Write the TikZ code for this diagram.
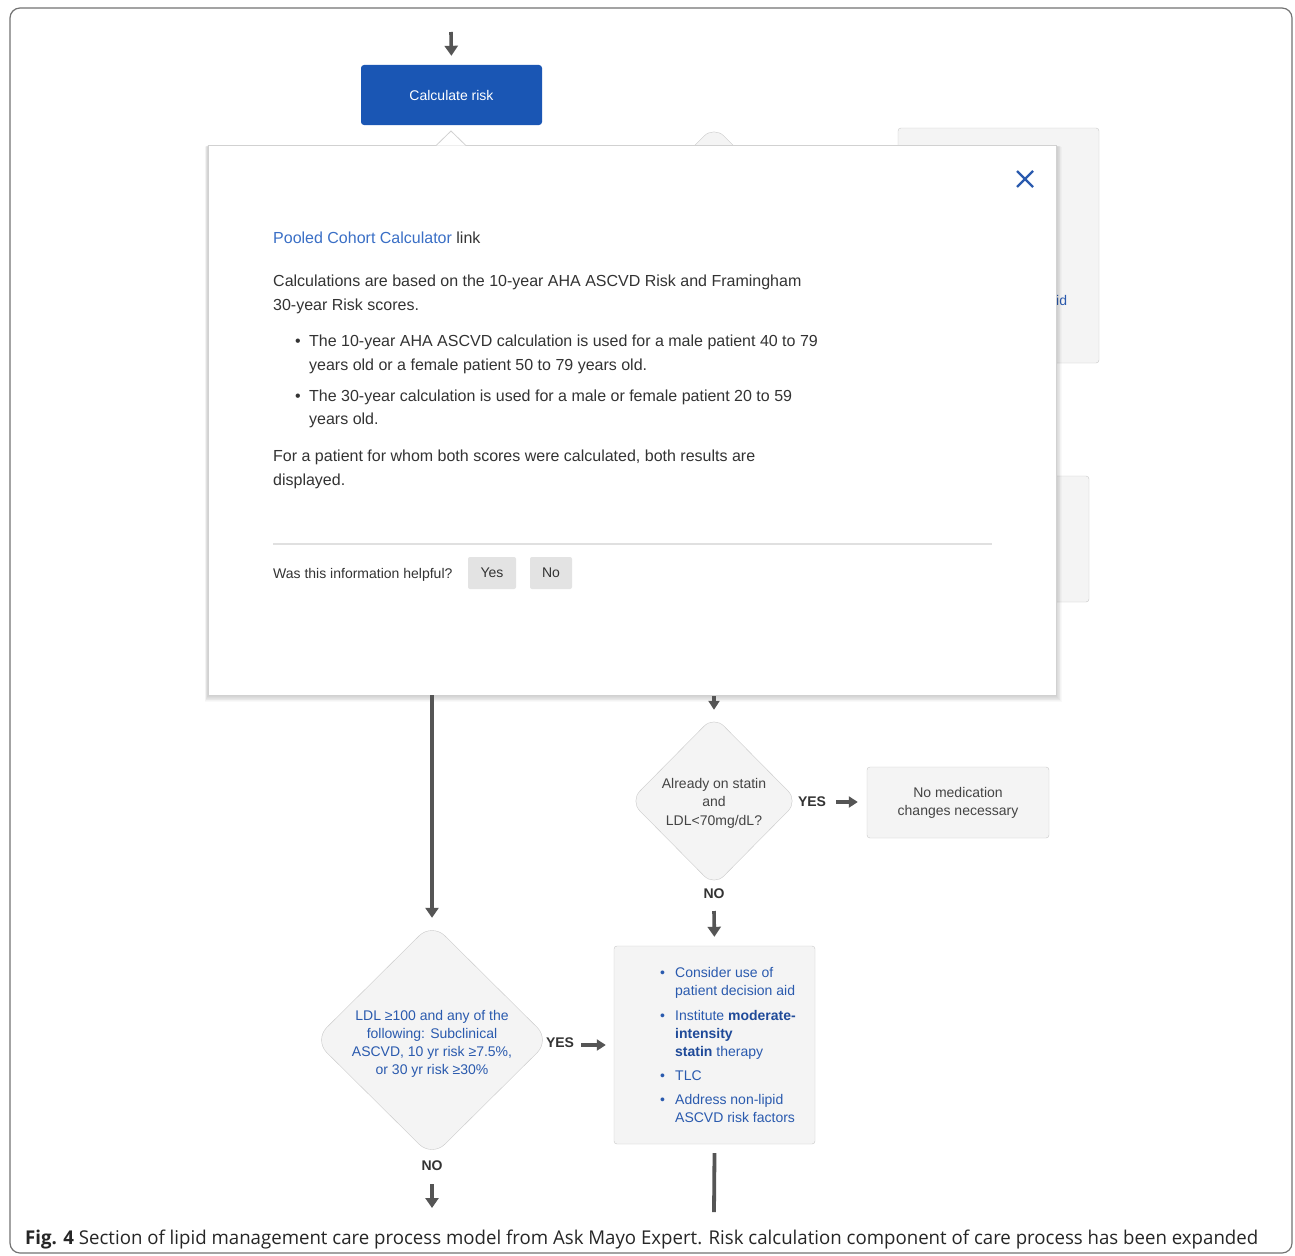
\documentclass[tikz,border=0pt]{standalone}
\usepackage{fontspec}
\setmainfont{Liberation Sans}
\newfontfamily\capfont{Open Sans}
\usetikzlibrary{arrows.meta,shapes.geometric}
\definecolor{arrowgray}{HTML}{555555}
\definecolor{calcblue}{HTML}{1A56B4}
\definecolor{linkblue}{HTML}{3A6FC6}
\definecolor{txtblue}{HTML}{2A5AAE}
\definecolor{boldblue}{HTML}{1F4A99}
\definecolor{boxfill}{HTML}{F4F4F4}
\definecolor{boxline}{HTML}{CACACA}
\definecolor{bodytext}{HTML}{333333}
\definecolor{graytext}{HTML}{444444}
\tikzset{
  arr/.style={draw=arrowgray, line width=3.6pt, -{Triangle[width=13pt,length=10pt]}},
  sarr/.style={draw=arrowgray, line width=3.2pt, -{Triangle[width=11pt,length=9pt]}},
  plainline/.style={draw=arrowgray, line width=3.6pt},
  graybox/.style={draw=boxline, fill=boxfill, rounded corners=3pt, inner sep=0pt},
  gdiamond/.style={diamond, draw=boxline, fill=boxfill, inner sep=0pt, rounded corners=14pt},
  pop/.style={anchor=base west, inner sep=0pt, text=bodytext, font=\fontsize{16}{20}\selectfont},
  popbul/.style={anchor=base west, inner sep=0pt, text=bodytext, font=\fontsize{16}{20}\selectfont},
  bl/.style={anchor=base west, inner sep=0pt, text=txtblue, font=\fontsize{14}{18}\selectfont},
  yn/.style={inner sep=0pt, text=bodytext, font=\fontsize{14}{16}\selectfont\bfseries},
  btn/.style={fill=black!11, rounded corners=2pt, inner sep=0pt, text=bodytext, font=\fontsize{14}{16}\selectfont},
}
\begin{document}
\begin{tikzpicture}[x=1pt,y=-1pt]
\useasboundingbox (0,0) rectangle (1295,1255);
\fill[white] (0,0) rectangle (1295,1255);
% outer frame
\draw[black!55, line width=1.2pt, rounded corners=10pt] (10,8) rectangle (1292,1253);

% ---- background elements partly hidden by the popup ----
\node[gdiamond, minimum width=172pt, minimum height=172pt] (hd) at (714,212) {};
\node[graybox, minimum width=201pt, minimum height=235pt] (hb1) at (998.5,245.5) {};
\node[anchor=base west, inner sep=0pt, text=txtblue, font=\fontsize{14}{18}\selectfont] (hbt) at (1056,305) {id};
\node[graybox, minimum width=100pt, minimum height=126pt] (hb2) at (1039,539) {};

% ---- top ----
\coordinate (in0) at (451,32);
\node[fill=calcblue, rounded corners=3pt, minimum width=181pt, minimum height=60pt, inner sep=0pt, text=white, font=\fontsize{14}{16}\selectfont] (calc) at (451.5,95) {Calculate risk};
\draw[arr, shorten >=9pt] (in0) -- (calc.north);

% ---- popup shadow ----
\foreach \i in {1,...,8}{
  \fill[black, opacity=0.022] (208-\i*0.4,145+\i*0.2) rectangle (1056+\i*0.7,695+\i*0.9);
}
% ---- popup ----
\node[draw=black!18, fill=white, minimum width=848pt, minimum height=550pt, inner sep=0pt, anchor=north west] (popup) at (208,145) {};
\coordinate (nl) at (436,145.6);
\coordinate (nt) at (451,131);
\coordinate (nr) at (466,145.6);
\fill[white] (nl) -- (nt) -- (nr) -- cycle;
\draw[black!18, line width=0.8pt] (nl) -- (nt) -- (nr);
% close icon
\coordinate (xa) at (1017,171);
\coordinate (xb) at (1033,187);
\coordinate (xc) at (1017,187);
\coordinate (xd) at (1033,171);
\draw[txtblue, line width=2.2pt] (xa) -- (xb) (xc) -- (xd);

\node[pop] (t1) at (273,243) {\textcolor{linkblue}{Pooled Cohort Calculator} link};
\node[pop] (t2) at (273,286) {Calculations are based on the 10-year AHA ASCVD Risk and Framingham};
\node[pop] (t3) at (273,310) {30-year Risk scores.};
\node[popbul] (b1) at (295,346) {•};
\node[pop] (t4) at (309,346) {The 10-year AHA ASCVD calculation is used for a male patient 40 to 79};
\node[pop] (t5) at (309,370) {years old or a female patient 50 to 79 years old.};
\node[popbul] (b2) at (295,401) {•};
\node[pop] (t6) at (309,401) {The 30-year calculation is used for a male or female patient 20 to 59};
\node[pop] (t7) at (309,424) {years old.};
\node[pop] (t8) at (273,461) {For a patient for whom both scores were calculated, both results are};
\node[pop] (t9) at (273,485) {displayed.};
\coordinate (sl) at (273,544);
\coordinate (sr) at (992,544);
\draw[black!12, line width=1.2pt] (sl) -- (sr);
\node[anchor=base west, inner sep=0pt, text=bodytext, font=\fontsize{14}{16}\selectfont] (help) at (273,578) {Was this information helpful?};
\node[btn, minimum width=48pt, minimum height=32pt] (yes) at (492,573) {Yes};
\node[btn, minimum width=42pt, minimum height=32pt] (no) at (551,573) {No};

% ---- lower flow ----
\node[gdiamond, minimum width=168pt, minimum height=170pt] (d1) at (714,801) {};
\node[align=center, inner sep=0pt, text=graytext, font=\fontsize{14}{18.5}\selectfont] (d1t) at (714,803) {Already on statin\\and\\LDL<70mg/dL?};
\node[graybox, minimum width=182pt, minimum height=71pt, align=center, text=graytext, font=\fontsize{14}{18}\selectfont] (nomed) at (958,802.5) {No medication\\changes necessary};
\node[yn] (yes1) at (812,802) {YES};
\node[yn] (no1) at (714,894) {NO};

\node[graybox, minimum width=201pt, minimum height=198pt] (box2) at (714.5,1045) {};
\node[bl] (c1) at (660,977) {•};
\node[bl] (c2) at (675,977) {Consider use of};
\node[bl] (c3) at (675,995) {patient decision aid};
\node[bl] (c4) at (660,1020) {•};
\node[bl] (c5) at (675,1020) {Institute \textcolor{boldblue}{\bfseries moderate-}};
\node[bl] (c6) at (675,1038) {\textcolor{boldblue}{\bfseries intensity}};
\node[bl] (c7) at (675,1056) {\textcolor{boldblue}{\bfseries statin} therapy};
\node[bl] (c8) at (660,1080) {•};
\node[bl] (c9) at (675,1080) {TLC};
\node[bl] (c10) at (660,1104) {•};
\node[bl] (c11) at (675,1104) {Address non-lipid};
\node[bl] (c12) at (675,1122) {ASCVD risk factors};

\node[gdiamond, minimum width=236pt, minimum height=234pt, rounded corners=18pt] (d2) at (432,1040) {};
\node[align=center, inner sep=0pt, text=txtblue, font=\fontsize{14}{18}\selectfont] (d2t) at (432,1044) {LDL ≥100 and any of the\\following: Subclinical\\ASCVD, 10 yr risk ≥7.5\%,\\or 30 yr risk ≥30\%};
\node[yn] (yes2) at (560,1043) {YES};
\node[yn] (no2) at (432,1166) {NO};

% connectors
\coordinate (p1) at (432,695);
\draw[arr, shorten >=5pt] (p1) -- (d2.north);
\coordinate (p2) at (714,696);
\draw[sarr, shorten >=6pt] (p2) -- (d1.north);
\coordinate (y1a) at (836,802);
\draw[sarr, shorten >=9pt] (y1a) -- (nomed.west |- y1a);
\coordinate (n1a) at (714,911);
\draw[arr, shorten >=9pt] (n1a) -- (box2.north);
\coordinate (y2a) at (581,1045);
\draw[sarr, shorten >=8pt] (y2a) -- (box2.west |- y2a);
\coordinate (n2a) at (432,1184);
\coordinate (n2b) at (432,1208);
\draw[arr] (n2a) -- (n2b);
\coordinate (b2end) at (714,1212);
\draw[plainline, line width=3.8pt] ([yshift=-9pt]box2.south) -- (b2end);

% caption
\node[anchor=base west, inner sep=0pt, text=black!85] (cap) at (25,1244) {\resizebox{1233pt}{\height}{\capfont\fontsize{19}{22}\selectfont\textbf{Fig. 4} Section of lipid management care process model from Ask Mayo Expert. Risk calculation component of care process has been expanded}};
\end{tikzpicture}
\end{document}
